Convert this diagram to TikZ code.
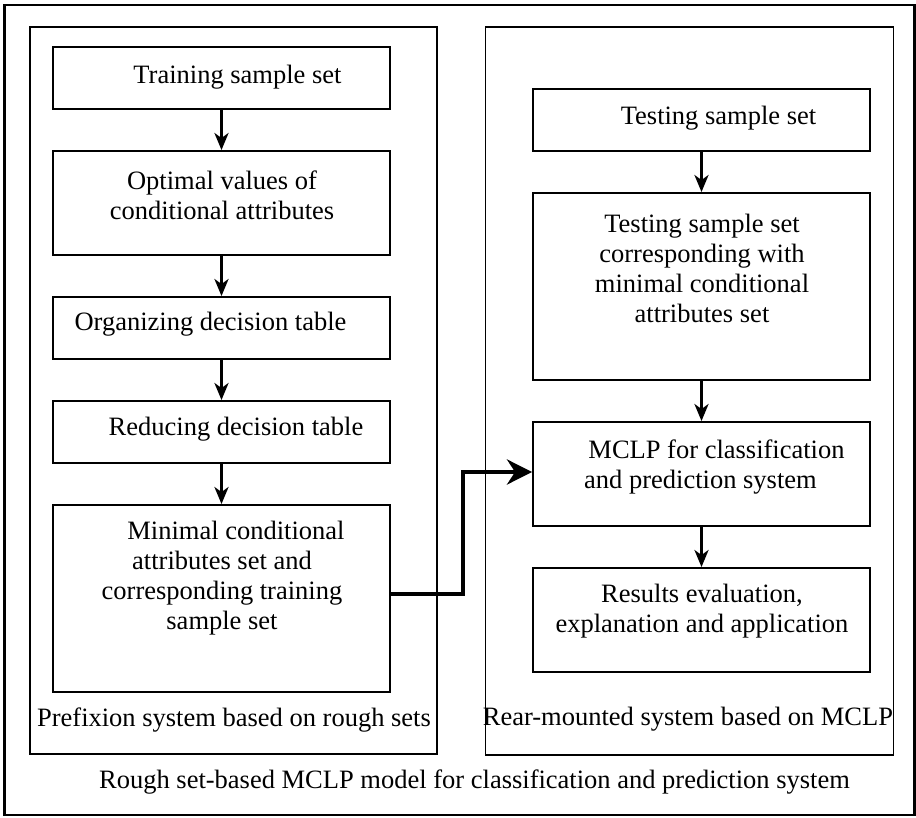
\documentclass[tikz,border=0pt]{standalone}
\usepackage{fontspec}
\setmainfont{Liberation Serif}
\usetikzlibrary{arrows.meta}
\tikzset{
  box/.style={draw, line width=1.9pt, minimum width=337pt, inner sep=0pt},
  panel/.style={draw, line width=1.5pt},
  frame/.style={draw, line width=2.8pt},
  txt/.style={font=\fontsize{26.5}{30}\selectfont, align=center, inner sep=0pt},
  flow/.style={line width=3.6pt, -{Stealth[length=17pt,width=14pt,inset=5pt]}},
  bigarrow/.style={line width=4.4pt, -{Stealth[length=25pt,width=25pt,inset=8pt]}}
}
\begin{document}
\begin{tikzpicture}[x=1pt,y=-1pt]
\useasboundingbox (0,0) rectangle (916,818);
% outer frame and panels
\node[frame, minimum width=910pt, minimum height=810pt] (outer) at (459.5,410) {};
\node[panel, minimum width=407pt, minimum height=727pt] (lp) at (233.5,390.5) {};
\node[panel, minimum width=408pt, minimum height=728pt] (rp) at (689.5,391) {};
% left boxes
\node[box, minimum height=62pt] (L1) at (221.5,78) {};
\node[box, minimum height=104pt] (L2) at (221.5,203) {};
\node[box, minimum height=62pt] (L3) at (221.5,328) {};
\node[box, minimum height=62pt] (L4) at (221.5,432) {};
\node[box, minimum height=187pt] (L5) at (221.5,598.5) {};
% right boxes
\node[box, minimum height=62pt] (R1) at (701.5,120) {};
\node[box, minimum height=187pt] (R2) at (701.5,286.5) {};
\node[box, minimum height=104pt] (R3) at (701.5,474) {};
\node[box, minimum height=104pt] (R4) at (701.5,620) {};
% texts
\node[txt] (tL1) at (237.5,77) {Training sample set};
\node[txt] (tL2) at (222,195) {Optimal values of\\conditional attributes};
\node[txt] (tL3) at (210.5,324) {Organizing decision table};
\node[txt] (tL4) at (236,429) {Reducing decision table};
\node[txt] (tL5) at (222,578) {\hspace*{28pt}Minimal conditional\\attributes set and\\corresponding training\\sample set};
\node[txt] (tR1) at (718.5,118) {Testing sample set};
\node[txt] (tR2) at (702,268) {Testing sample set\\corresponding with\\minimal conditional\\attributes set};
\node[txt] (tR3) at (700.5,467.5) {\hspace*{32pt}MCLP for classification\\and prediction system};
\node[txt] (tR4) at (702,611.5) {Results evaluation,\\explanation and application};
\node[txt] (tlp) at (234,720) {Prefixion system based on rough sets};
\node[txt] (trp) at (688,719) {Rear-mounted system based on MCLP};
\node[txt] (title) at (474.5,782) {Rough set-based MCLP model for classification and prediction system};
% arrows
\draw[flow] (L1) -- (L2);
\draw[flow] (L2) -- (L3);
\draw[flow] (L3) -- (L4);
\draw[flow] (L4) -- (L5);
\draw[flow] (R1) -- (R2);
\draw[flow] (R2) -- (R3);
\draw[flow] (R3) -- (R4);
\draw[bigarrow] ([yshift=4.5pt]L5.east) -- ++(72,0) |- ([yshift=2pt]R3.west);
\end{tikzpicture}
\end{document}
